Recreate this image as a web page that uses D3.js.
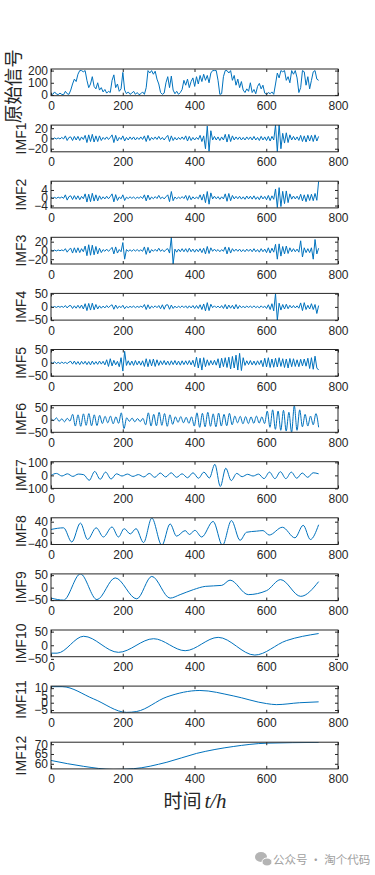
<!DOCTYPE html>
<html>
<head>
<meta charset="utf-8">
<script src="https://cdn.jsdelivr.net/npm/d3@7/dist/d3.min.js"></script>
<style>
body{margin:0;background:#fff;}
svg{display:block;}
.tick text{font-family:"Liberation Sans",Arial,sans-serif;font-size:12px;fill:#262626;}
.tick line{stroke:#262626;}
</style>
</head>
<body>
<svg id="chart" width="375" height="875"></svg>
<script>
//data
var tEnd = 746;
var xTicks = [0, 200, 400, 600, 800];
var names = ["原始信号","IMF1","IMF2","IMF3","IMF4","IMF5","IMF6","IMF7","IMF8","IMF9","IMF10","IMF11","IMF12"];

var raw = [10,5,25,8,3,15,5,2,30,10,5,40,90,130,110,170,200,200,190,200,
  120,60,90,150,70,50,100,40,60,25,45,15,30,20,120,165,60,90,30,50,
  185,40,10,25,5,15,30,5,20,2,10,25,5,60,200,180,200,170,195,130,
  90,20,5,15,100,150,60,155,40,10,30,5,20,45,120,80,130,60,110,140,
  70,150,90,160,110,170,120,160,100,180,200,200,200,120,5,10,150,200,200,180,
  200,120,160,80,130,60,110,40,20,50,30,100,20,45,10,70,95,50,80,15,
  5,20,10,25,5,90,180,140,200,190,200,120,150,100,200,170,200,140,20,60,
  200,190,80,150,50,120,190,200,130,120];

var imf1 = [1,-1,1,-1,1,-1,2,-1, 5,-4,2, 3,-4,4,-3,4,-4,3, -2,
  6,-8,7,-6,8,-7,5,-6, 5,-4, 2,-2,3,-2,2, 7,-8,6,-5, 2,-2, 5,-5,
  2,-3,3,-2,3,-3,2,-2,3,-2, 5,-6,6,-4, 2,-2,3,-2, 4, -2,2,-3,2,
  6,-6,5,-4, 2,-3,2,-2,3,-2, 5,-5,4,-4, 2,-3,2,-2, 6,-6,5, -20,24,-25,15,
  -3,4,-3,3,-4,3,-3, 8,-7,8,-6,5, -3,3,-2,3,-3,2,-3,3,-2,3,-3,4,-3,2,-4,4,-3,3,
  -4,4,-5,4,-3, 26,-26,28,-20, 10,-9,11,-8,7, -3,4,-3,3,-4, 6,-6,5,-7,6,-5,6,-6,7,-5,4];

var imf2 = [0.3,-0.3,0.2,-0.3,0.3,-0.2,0.4,-0.3, 1.5,-1.2,0.6, 1,-0.9,1.1,-0.8,1,-1,0.7, -0.5,
  2,-2.2,1.8,-2,2.3,-1.7,1.5,-1.6, 1,-0.8, 0.5,-0.6,0.8,-0.5,0.6, 2,-2.1,1.6,-1.4, 0.4,-0.5, 1.5,-1.4,
  0.3,-0.4,0.5,-0.3,0.4,-0.5,0.3,-0.3,0.6,-0.4, 1.5,-1.6,1.4,-1, 0.4,-0.5,0.6,-0.4, 1.2, -0.5,0.4,-0.6,0.5,
  1.5,-2,3.2,-1.5, 0.4,-0.5,0.3,-0.4,0.6,-0.4, 1.2,-1.3,1.1,-1, 0.5,-0.6,0.4,-0.5, 1.5,-1.2,1.8, -2.5,3.2,-3.3,2.5,
  -0.6,0.8,-0.5,0.6,-0.8,0.5,-0.6, 2,-1.8,2.2,-1.5,1.2, -0.6,0.7,-0.5,0.8,-0.7,0.5,-0.8,0.9,-0.6,0.8,-0.7,1,-0.8,0.5,-1,1,-0.6,0.7,
  -1,1.2,-1.4,1,-0.8, 4.5,-5,5.2,-4.5, 3.3,-3,3.5,-2.5,2, -0.7,0.9,-0.6,0.8,-0.9, 1.8,-1.6,1.5,-2,1.7,-1.4,1.8,-1.5,2.2,-1.3,8.5];

var imf3 = [1,-1,0.8,-1.2,1,-0.8,1.2,-1, 4,-4,2, 5,-6,6,-5,6,-5,4, -3,
  10,-12,13,-11,12,-10,9,-8, 5,-5, 2,-2,3,-2,2, 7,-8,8,-6, 2,-3, 18,-20,
  2,-2,1.5,-2,2,-1.5,2,-2,1.5,-2, 8,-9,7,-6, 2,-2,2.5,-2, 5, -2,2,-3,2,
  4,-6,30,-31, 3,-4,3,-3,4,-3, 4,-4,5,-3, 3,-4,3,-3, 4,-5,5, -8,9,-7,6,
  -2,3,-2,2,-3,2,-2, 8,-8,7,-6,4, -2,3,-2,3,-3,2,-3,3,-2,3,-3,4,-3,2,-4,4,-3,3,
  -5,6,-6,5,-4, 14,-20,15,-13, 9,-8,10,-7,6, -3,4,-3,3,-4, 22,-15,6,-5,4,-5,6,-20,25,-8,5];

var imf4 = [2,-2,1.5,-2,2,-1.5,2,-2, 5,-4,4, 5,-6,4,-5,6,-5,7, -8,
  12,-14,13,-12,14,-11,9,-8, 4,-5, 3,-4,5,-3,4, 8,-9,7,-6, 3,-3, 6,-7,
  2,-3,2,-2,3,-3,2,-2,3,-2, 9,-10,8,-7, 3,-3,4,-3, 5, -7,8,-9,7,
  8,-9,7,-6, 3,-4,3,-3,4,-3, 4,-5,4,-4, 5,-6,5,-6, 8,-10,11, -15,16,-14,10,
  -3,4,-3,3,-4,5,-6, 9,-8,7,-5,6, -8,9,-7,5,-3,2,-3,3,-2,3,-3,4,-3,2,-4,4,-3,3,
  -6,8,-10,12,-15, 50,-50,14,-12, 9,-8,10,-7,6, -4,5,-4,4,-5, 15,-14,16,-10,6,-8,12,-10,9,-25,5];

var imf5 = [3,-2,4,-3,2,-3,3,-2, 2,-3,3, 6,-5,7,-6,5,-7,6, -5,
  6,-7,5,-8,7,-6,5,-6, 7,-5, 6,-8,12,-14,16, -12,10,-8,6, -15,20, -32,45,
  -10,8,-9,7,-10,9,-8,7,-9,8, -14,16,-15,13, -12,15,-14,12, -10, 8,-7,9,-8,
  7,-9,8,-7, 9,-8,7,-9,8,-7, 8,-7,9,-8, 10,-15,22,-20, 18,-28,20, -15,12,-10,9,
  -8,10,-9,16,-20,18,-15, 20,-18,22,-24,25, -20,30,-28,37,-30,20,-10,8,-7,9,-8,7,-9,8,-7,10,-15,18,
  -16,20,-18,15,-17, 18,-16,20,-14, 16,-18,15,-20,17, -15,16,-14,12,-15, 14,-12,15,-13,18,-22,20,-25,26,-20,-28];

var imf6 = [5,-3,8,-6,4,-8,6,-5,
  22,-25,20,-26,24,-22,25,-24,20,-23,18,
  -15,14,-12,15,-16,12,-14, 28,-35,
  8,-6,7,-8,5,-7,6,
  -20,28,-25,22,-24,30,-22,25,-26,20,-18,
  12,-10,13,-12,10,-14,12,
  -25,28,-30,26,-28,30,-26,24,-28,27,-25,22,-24,26,-20,
  15,-12,14,-16,13,-15,12,-14,15,-13,12,-15,
  35,-30,40,-38,35,-42,38,-45, 30,-50,57,-42,40,-28,22,-25,15,-20,25,-30];

var imf7 = [0,15,-5,12,-8,10,5,-38,30,-30,25,-28,12,-5,10,-8,6,-12,15,-15,
  18,-12,20,-15,12,-18,20,-22,25,-20,85,-85,55,-40,15,-10,8,-5,10,-25,
  25,-25,28,-25,25,-22,18,-15,20,12];

var imf8T = [0,35,58,82,102,126,146,170,188,204,221,237,258,281,309,332,350,374,386,401,420,452,478,503,527,545,573,591,608,645,680,703,723,746];
var imf8V = [12,18,-33,35,-24,18,-15,21,-15,15,-4,15,-35,53,-45,32,-12,8,-6,9,-15,41,-45,44,-27,2,6,8,-8,20,-18,27,-24,29];

var imf9T = [0,35,82,128,179,239,281,332,360,397,430,476,499,550,601,640,696,746];
var imf9V = [-42,-50,55,-48,39,-45,45,-42,-28,-8,5,9,30,-28,-12,32,-35,24];

var imf10T = [0,17,91,188,286,374,466,568,656,746];
var imf10V = [-29,-29,33,-26,24,-20,29,-36,17,43];

var imf11T = [0,31,119,211,239,323,415,508,601,628,693,746];
var imf11V = [11,11,2.6,-6.6,-6,4,8.4,4.7,-0.6,-1.3,0,0.6];

var imf12T = [0,91,174,230,323,406,508,601,746];
var imf12V = [61.7,58.7,57.1,57.5,60.8,65.3,68.8,70.5,70.9];

var yDomains = [[-6,213],[-26,26],[-5.2,8.5],[-31,30],[-50,51],[-52,52],[-50,57],[-100,105],[-42,54],[-52,55],[-42,56],[-6.9,11.4],[57.4,71]];
var yTicks = [[0,100,200],[-20,0,20],[-4,0,4],[-20,0,20],[-50,0,50],[-50,0,50],[-50,0,50],[-100,0,100],[-40,0,40],[-50,0,50],[-50,0,50],[-5,0,5,10],[60,65,70]];

var vals = [raw,imf1,imf2,imf3,imf4,imf5,imf6,imf7,imf8V,imf9V,imf10V,imf11V,imf12V];
var times = [null,null,null,null,null,null,null,null,imf8T,imf9T,imf10T,imf11T,imf12T];

//screen parameters
var left = 51, right = 338, top0 = 69, gap = 56.1, ph = 26.7;

var svg = d3.select("#chart");

var xScale = d3.scaleLinear()
                .domain([0, 800])
                .range([left, right]);

names.forEach(function(name, k){
  var top = top0 + k*gap;
  var yScale = d3.scaleLinear()
                  .domain(yDomains[k])
                  .range([top + ph, top]);

  var v = vals[k];
  var t = times[k] || v.map(function(d, i){ return i*tEnd/(v.length - 1); });
  var smooth = k >= 6;

  var g = svg.append("g").classed("panel", true);

  g.append("clipPath").attr("id", "clip" + k)
    .append("rect")
    .attr("x", left).attr("y", top)
    .attr("width", right - left).attr("height", ph);

  var line = d3.line()
               .x(function(d, i){ return xScale(t[i]); })
               .y(function(d){ return yScale(d); })
               .curve(smooth ? d3.curveMonotoneX : d3.curveLinear);

  g.append("path").datum(v)
    .attr("clip-path", "url(#clip" + k + ")")
    .attr("d", line)
    .attr("fill", "none")
    .attr("stroke", "#0072BD")
    .attr("stroke-width", 1)
    .attr("stroke-linejoin", "round");

  // axes (ticks point inward, mirrored like a box)
  var xb = g.append("g").attr("transform", "translate(0," + (top + ph) + ")")
            .call(d3.axisBottom(xScale).tickValues(xTicks).tickSizeInner(-3).tickSizeOuter(0).tickPadding(6));
  var xt = g.append("g").attr("transform", "translate(0," + top + ")")
            .call(d3.axisTop(xScale).tickValues(xTicks).tickSizeInner(-3).tickSizeOuter(0).tickFormat(""));
  var yl = g.append("g").attr("transform", "translate(" + left + ",0)")
            .call(d3.axisLeft(yScale).tickValues(yTicks[k]).tickSizeInner(-3).tickSizeOuter(0).tickPadding(3));
  var yr = g.append("g").attr("transform", "translate(" + right + ",0)")
            .call(d3.axisRight(yScale).tickValues(yTicks[k]).tickSizeInner(-3).tickSizeOuter(0).tickFormat(""));
  [xb, xt, yl, yr].forEach(function(a){ a.select(".domain").remove(); });

  g.append("rect")
    .attr("x", left).attr("y", top)
    .attr("width", right - left).attr("height", ph)
    .attr("fill", "none").attr("stroke", "#262626").attr("stroke-width", 1);

  // y label
  var cy = top + ph/2;
  if (k == 0) {
    g.append("text")
      .attr("transform", "translate(14," + (cy + 4) + ") rotate(-90)")
      .attr("text-anchor", "middle").attr("dy", "0.35em")
      .attr("font-family", "'Noto Sans CJK SC', sans-serif")
      .attr("font-size", 18.5).attr("fill", "#262626")
      .text(name);
  } else {
    g.append("text")
      .attr("transform", "translate(21," + cy + ") rotate(-90)")
      .attr("text-anchor", "middle").attr("dy", "0.35em")
      .attr("font-family", "'Liberation Sans', Arial, sans-serif")
      .attr("font-size", 14).attr("fill", "#262626")
      .text(name);
  }
});

// x label
var xl = svg.append("text")
            .attr("x", 195).attr("y", 808)
            .attr("text-anchor", "middle")
            .attr("fill", "#262626");
xl.append("tspan").attr("font-family", "'Noto Sans CJK SC', sans-serif").attr("font-size", 19).text("时间");
xl.append("tspan").attr("font-family", "'Liberation Serif', serif").attr("font-style", "italic").attr("font-size", 21).attr("dx", 3).text("t/h");

// watermark
var wm = svg.append("g").attr("fill", "#b4b4b4");
wm.append("ellipse").attr("cx", 261).attr("cy", 857).attr("rx", 6).attr("ry", 5);
wm.append("ellipse").attr("cx", 267).attr("cy", 862).attr("rx", 5).attr("ry", 4).attr("stroke", "#fff").attr("stroke-width", 1);
svg.append("text")
   .attr("x", 273).attr("y", 863.5)
   .attr("font-family", "'Noto Sans CJK SC', sans-serif")
   .attr("font-size", 11.5).attr("fill", "#a0a0a0")
   .text("公众号 · 淘个代码");
</script>
</body>
</html>
